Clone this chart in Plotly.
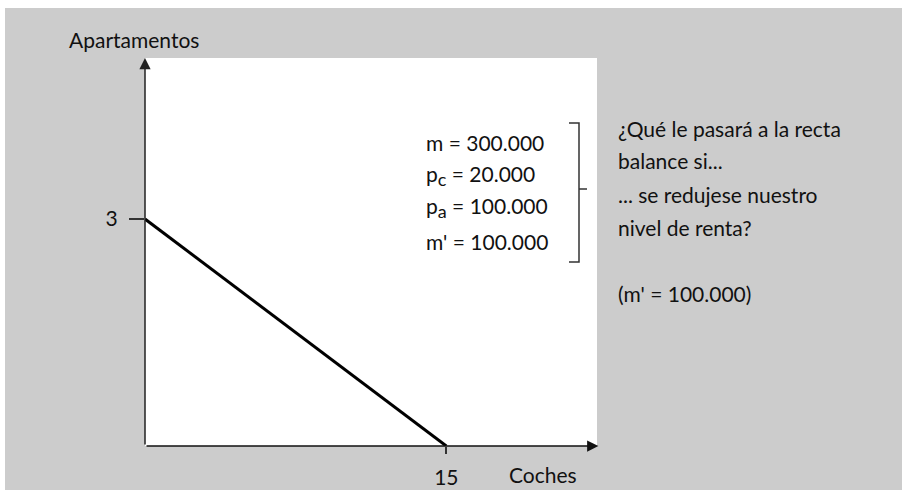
import plotly.graph_objects as go

# Budget line data
coches = [0, 15]
apartamentos = [3, 0]
x_ticks = [15]
y_ticks = [3]

params = ["m = 300.000",
          "p<sub><span style='font-size:18px'>c</span></sub> = 20.000",
          "p<sub><span style='font-size:18px'>a</span></sub> = 100.000",
          "m' = 100.000"]
question = ["¿Qué le pasará a la recta", "balance si...", "... se redujese nuestro",
            "nivel de renta?", "", "(m' = 100.000)"]

W, H = 902, 490
L, R, T, B = 145, 305, 58, 44
PW, PH = W - L - R, H - T - B
X_MAX = 22.5
Y_MAX = 5.128

FONT = "Lato"
FS = 21
INK = "#111111"


def px(xp):
    return (xp - L) / PW


def py(yp):
    return (H - B - yp) / PH


fig = go.Figure()
fig.add_trace(go.Scatter(x=coches, y=apartamentos, mode="lines",
                         line=dict(color="black", width=3), hoverinfo="skip",
                         showlegend=False, cliponaxis=False))

shapes = [
    # white page strip at top and left
    dict(type="rect", xref="paper", yref="paper", x0=px(0), x1=px(W), y0=py(8), y1=py(0),
         fillcolor="white", line=dict(width=0), layer="below"),
    dict(type="rect", xref="paper", yref="paper", x0=px(0), x1=px(5), y0=py(H), y1=py(0),
         fillcolor="white", line=dict(width=0), layer="below"),
    # bracket around the parameters
    dict(type="path", xref="paper", yref="paper",
         path=f"M {px(569)},{py(123)} L {px(579)},{py(123)} L {px(579)},{py(262)} L {px(569)},{py(262)}",
         line=dict(color="#333333", width=1.5)),
    dict(type="line", xref="paper", yref="paper", x0=px(579), x1=px(587), y0=py(189), y1=py(189),
         line=dict(color="#333333", width=1.5)),
]

annotations = [
    # axis arrows
    dict(x=0, y=Y_MAX, ax=0, ay=0, xref="x", yref="y", axref="x", ayref="y", text="",
         showarrow=True, arrowhead=2, arrowsize=1.5, arrowwidth=1.5, arrowcolor="#222222", standoff=0),
    dict(x=X_MAX * 1.003, y=0, ax=0, ay=0, xref="x", yref="y", axref="x", ayref="y", text="",
         showarrow=True, arrowhead=2, arrowsize=1.5, arrowwidth=1.5, arrowcolor="#111111", standoff=0),
    dict(x=px(134), y=py(40), xref="paper", yref="paper", text="Apartamentos", showarrow=False,
         xanchor="center", yanchor="middle", font=dict(family=FONT, size=FS, color=INK)),
    dict(x=px(543), y=py(474), xref="paper", yref="paper", text="Coches", showarrow=False,
         xanchor="center", yanchor="middle", font=dict(family=FONT, size=FS, color=INK)),
]

for i, t in enumerate(params):
    annotations.append(dict(x=px(424), y=py(142 + 33 * i), xref="paper", yref="paper", text=t,
                            showarrow=False, xanchor="left", yanchor="middle",
                            font=dict(family=FONT, size=FS, color=INK)))

for i, t in enumerate(question):
    if not t:
        continue
    annotations.append(dict(x=px(616), y=py(128 + 33 * i), xref="paper", yref="paper", text=t,
                            showarrow=False, xanchor="left", yanchor="middle",
                            font=dict(family=FONT, size=FS, color=INK)))

fig.update_layout(
    width=W, height=H,
    margin=dict(l=L, r=R, t=T, b=B, pad=0, autoexpand=False),
    paper_bgcolor="#cccccc", plot_bgcolor="white",
    shapes=shapes, annotations=annotations,
    xaxis=dict(range=[0, X_MAX], tickvals=x_ticks, ticktext=[str(v) for v in x_ticks],
               ticks="outside", ticklen=7, tickwidth=1.5, tickcolor="#333333",
               showgrid=False, zeroline=False, showline=False, ticklabelstandoff=6,
               automargin=False,
               tickfont=dict(family=FONT, size=FS, color=INK), fixedrange=True),
    yaxis=dict(range=[0, Y_MAX], tickvals=y_ticks, ticktext=[str(v) for v in y_ticks],
               ticks="outside", ticklen=15, tickwidth=1.5, tickcolor="#333333",
               showgrid=False, zeroline=False, showline=False, ticklabelstandoff=7,
               automargin=False,
               tickfont=dict(family=FONT, size=FS, color=INK), fixedrange=True),
)

fig.write_html("out.html", config={"displayModeBar": False},
               post_script="document.body.style.margin='0';document.body.style.overflow='hidden';")
